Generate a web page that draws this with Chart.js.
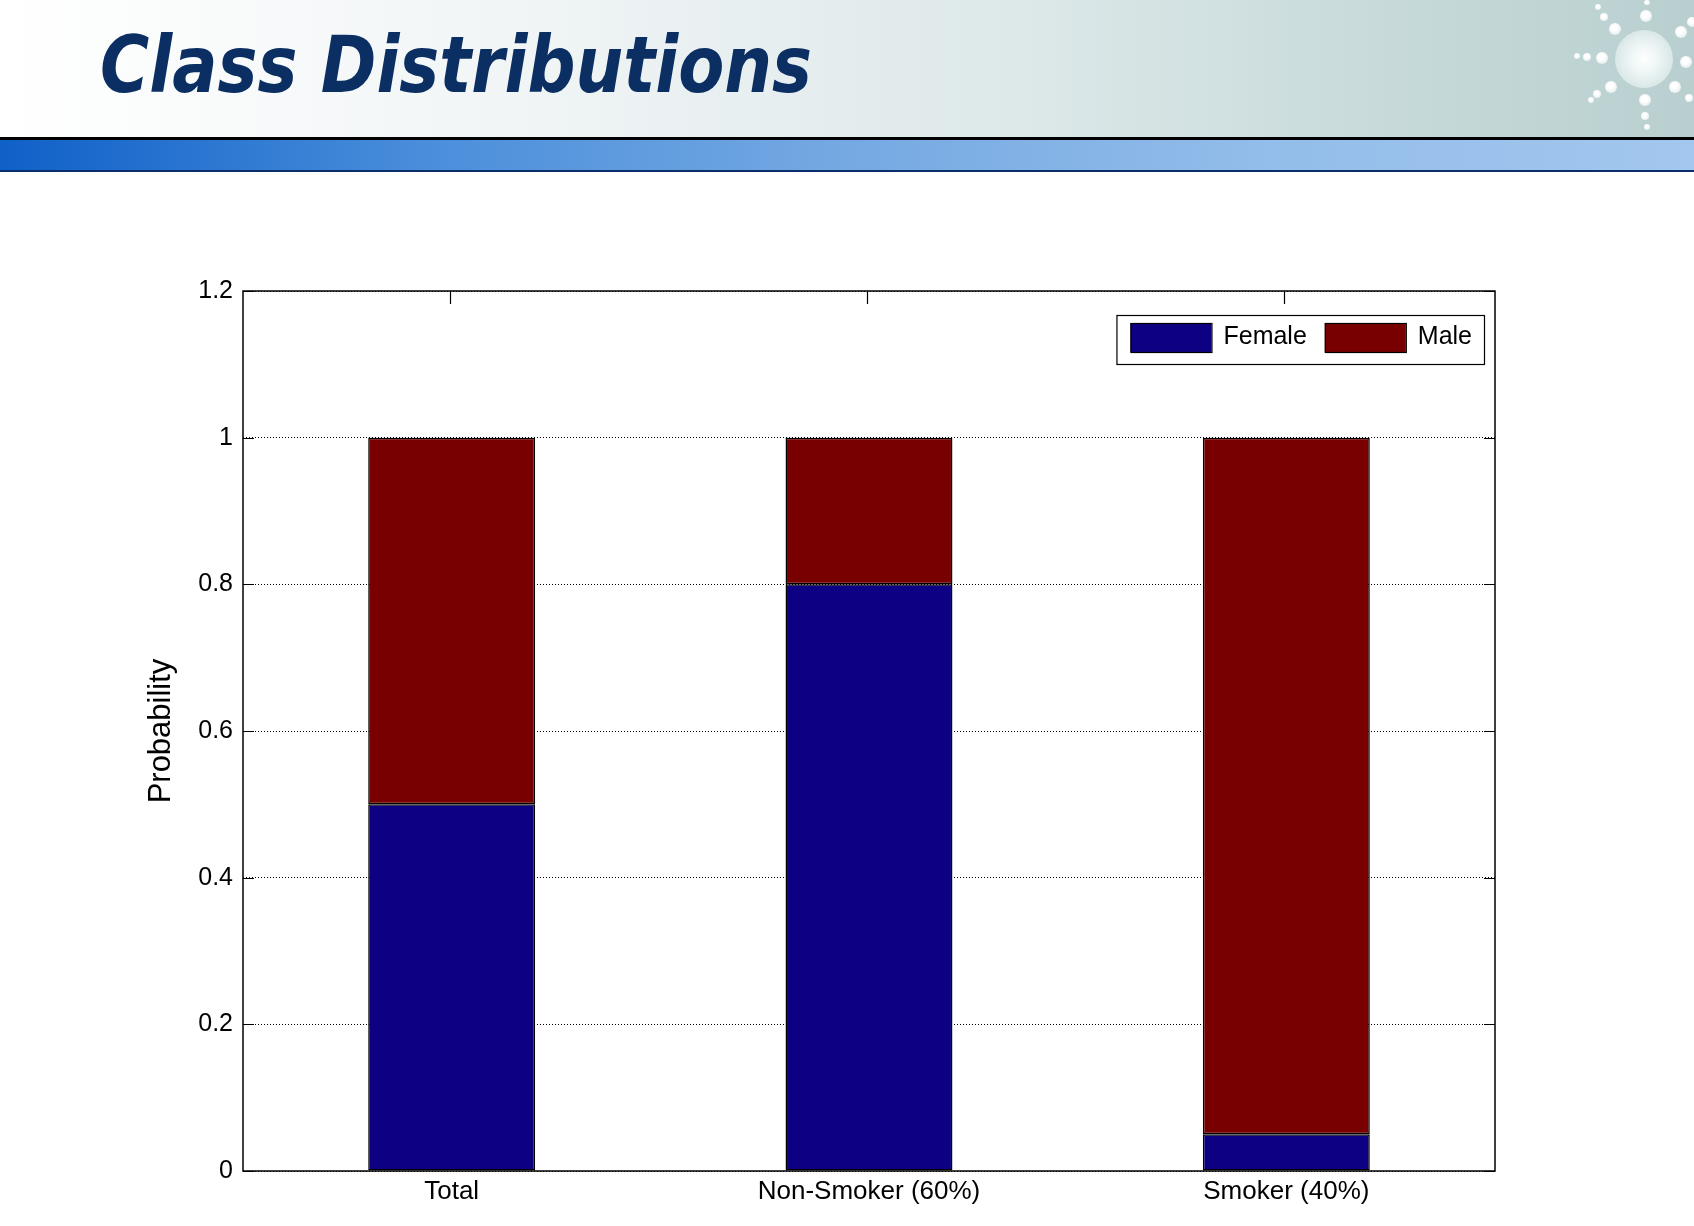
<!DOCTYPE html>
<html>
<head>
<meta charset="utf-8">
<title>Class Distributions</title>
<script src="https://cdn.jsdelivr.net/npm/chart.js@4.4.1/dist/chart.umd.min.js"></script>
<style>
  html, body { margin: 0; padding: 0; background: #fff; }
  body { width: 1694px; height: 1226px; position: relative; overflow: hidden; }
  .header {
    position: absolute; left: 0; top: 0; width: 1694px; height: 137px;
    background: linear-gradient(to right, #ffffff 0%, #f1f5f6 30%, #dde8e9 60%, #c9dbdb 80%, #b9cfcf 100%);
  }
  .rule { position: absolute; left: 0; top: 137px; width: 1694px; height: 3px; background: #000; }
  .band {
    position: absolute; left: 0; top: 140px; width: 1694px; height: 30px;
    background: linear-gradient(to right, #0f60c8 0%, #4a8edb 25%, #75a9e2 50%, #93bdea 75%, #a3c7ee 100%);
  }
  .band-line { position: absolute; left: 0; top: 170px; width: 1694px; height: 2px; background: #0a2e6a; }
  .title {
    position: absolute; left: 100px; top: 26px;
    font-family: "DejaVu Sans", Verdana, sans-serif; font-weight: bold; font-style: italic;
    font-size: 78px; line-height: 78px; color: #0b2f62; white-space: nowrap;
    transform: scaleX(0.86); transform-origin: left top;
  }
  .sun {
    position: absolute; left: 1615px; top: 30px; width: 58px; height: 58px; border-radius: 50%;
    background: radial-gradient(circle at 50% 50%, #ffffff 0%, #eef5f5 35%, #c9dcdc 100%);
  }
  .dot { position: absolute; border-radius: 50%; background: radial-gradient(circle at 45% 40%, #ffffff 30%, #d6e4e4 100%); }
  #wrap { position: absolute; left: 0; top: 180px; width: 1694px; height: 1046px; }
</style>
</head>
<body>
<div class="header"></div>
<div class="sun"></div>
<div class="dot" style="left:1640px;top:10px;width:12px;height:12px"></div>
<div class="dot" style="left:1644px;top:0px;width:6px;height:5px"></div>
<div class="dot" style="left:1675px;top:26px;width:12px;height:12px"></div>
<div class="dot" style="left:1687px;top:17px;width:10px;height:10px"></div>
<div class="dot" style="left:1680px;top:56px;width:12px;height:12px"></div>
<div class="dot" style="left:1669px;top:81px;width:12px;height:12px"></div>
<div class="dot" style="left:1685px;top:94px;width:8px;height:8px"></div>
<div class="dot" style="left:1639px;top:94px;width:12px;height:12px"></div>
<div class="dot" style="left:1641px;top:112px;width:8px;height:8px"></div>
<div class="dot" style="left:1644px;top:124px;width:6px;height:6px"></div>
<div class="dot" style="left:1605px;top:81px;width:12px;height:12px"></div>
<div class="dot" style="left:1593px;top:90px;width:8px;height:8px"></div>
<div class="dot" style="left:1588px;top:97px;width:6px;height:6px"></div>
<div class="dot" style="left:1596px;top:52px;width:12px;height:12px"></div>
<div class="dot" style="left:1583px;top:53px;width:8px;height:8px"></div>
<div class="dot" style="left:1574px;top:53px;width:6px;height:6px"></div>
<div class="dot" style="left:1609px;top:23px;width:12px;height:12px"></div>
<div class="dot" style="left:1600px;top:13px;width:8px;height:8px"></div>
<div class="dot" style="left:1595px;top:4px;width:6px;height:6px"></div>
<div class="title">Class Distributions</div>
<div class="rule"></div>
<div class="band"></div>
<div class="band-line"></div>
<div id="wrap"><canvas id="classChart" width="1694" height="1046"></canvas></div>

<script>
  // ---- data ----
  const categories = ["Total", "Non-Smoker (60%)", "Smoker (40%)"];
  const femaleValues = [0.5, 0.8, 0.05];
  const maleValues = [0.5, 0.2, 0.95];
  const yTicks = [0, 0.2, 0.4, 0.6, 0.8, 1, 1.2];
  const yTickLabels = ["0", "0.2", "0.4", "0.6", "0.8", "1", "1.2"];

  const FEMALE_COLOR = "#0e0082";
  const MALE_COLOR = "#780000";
  const FONT = '"Liberation Sans", Arial, Helvetica, sans-serif';

  // matlab-style box with inward ticks
  const axesBox = {
    id: "axesBox",
    afterDatasetsDraw(chart) {
      const { ctx, chartArea: a, scales } = chart;
      ctx.save();
      ctx.strokeStyle = "#000";
      ctx.lineWidth = 1.5;
      ctx.strokeRect(a.left, a.top, a.right - a.left, a.bottom - a.top);
      ctx.lineWidth = 1.2;
      ctx.beginPath();
      yTicks.forEach((v) => {
        const y = Math.round(scales.y.getPixelForValue(v)) + 0.5;
        ctx.moveTo(a.left, y);
        ctx.lineTo(a.left + 11, y);
        ctx.moveTo(a.right, y);
        ctx.lineTo(a.right - 11, y);
      });
      categories.forEach((c, i) => {
        const x = Math.round(scales.x.getPixelForValue(i)) - 1.5;
        ctx.moveTo(x, a.top);
        ctx.lineTo(x, a.top + 13);
      });
      ctx.stroke();
      ctx.restore();
    },
  };

  // legend box inside the plot, top right
  const legendBox = {
    id: "legendBox",
    afterDraw(chart) {
      const { ctx, chartArea: a } = chart;
      const sets = chart.data.datasets;
      const swW = 81, swH = 29;
      ctx.save();
      ctx.font = "25px " + FONT;
      const widths = sets.map((d) => ctx.measureText(d.label).width);
      let total = 14 + 12;
      sets.forEach((d, i) => {
        total += swW + 12 + widths[i] + (i < sets.length - 1 ? 18 : 0);
      });
      const right = a.right - 11;
      const top = a.top + 24;
      const h = 49;
      const left = right - total;
      ctx.fillStyle = "#fff";
      ctx.fillRect(left, top, total, h);
      ctx.strokeStyle = "#000";
      ctx.lineWidth = 1.2;
      ctx.strokeRect(left + 0.5, top + 0.5, total, h);
      let x = left + 14;
      const cy = top + 8 + swH / 2;
      sets.forEach((d, i) => {
        ctx.fillStyle = d.backgroundColor;
        ctx.fillRect(x, top + 8, swW, swH);
        ctx.strokeRect(x + 0.5, top + 8.5, swW, swH);
        x += swW + 12;
        ctx.fillStyle = "#000";
        ctx.textBaseline = "middle";
        ctx.textAlign = "left";
        ctx.fillText(d.label, x, cy);
        x += widths[i] + 18;
      });
      ctx.restore();
    },
  };

  const ctx = document.getElementById("classChart");
  new Chart(ctx, {
    type: "bar",
    data: {
      labels: categories,
      datasets: [
        {
          label: "Female",
          data: femaleValues,
          backgroundColor: FEMALE_COLOR,
          borderColor: "#000",
          borderWidth: 1.5,
          borderSkipped: false,
        },
        {
          label: "Male",
          data: maleValues,
          backgroundColor: MALE_COLOR,
          borderColor: "#000",
          borderWidth: 1.5,
          borderSkipped: false,
        },
      ],
    },
    options: {
      responsive: false,
      animation: false,
      devicePixelRatio: 1,
      layout: { padding: { left: 143, right: 199, top: 111, bottom: 5 } },
      datasets: { bar: { categoryPercentage: 1, barPercentage: 0.4 } },
      plugins: { legend: { display: false }, tooltip: { enabled: false } },
      scales: {
        x: {
          stacked: true,
          grid: { display: false },
          border: { display: false },
          ticks: { color: "#000", font: { family: FONT, size: 26 }, padding: -3 },
          afterFit(scale) { scale.height = 50; },
        },
        y: {
          stacked: true,
          min: 0,
          max: 1.2,
          afterBuildTicks(scale) {
            scale.ticks = yTicks.map((v) => ({ value: v }));
          },
          ticks: {
            color: "#000",
            font: { family: FONT, size: 25 },
            padding: 10,
            callback: (v, i) => yTickLabels[i],
          },
          grid: { color: "#000", lineWidth: 1, drawTicks: false },
          border: { display: false, dash: [1, 2] },
          title: {
            display: true,
            text: "Probability",
            color: "#000",
            font: { family: FONT, size: 31 },
            padding: 0,
          },
          afterFit(scale) { scale.width = 100; },
        },
      },
    },
    plugins: [axesBox, legendBox],
  });
</script>
</body>
</html>
